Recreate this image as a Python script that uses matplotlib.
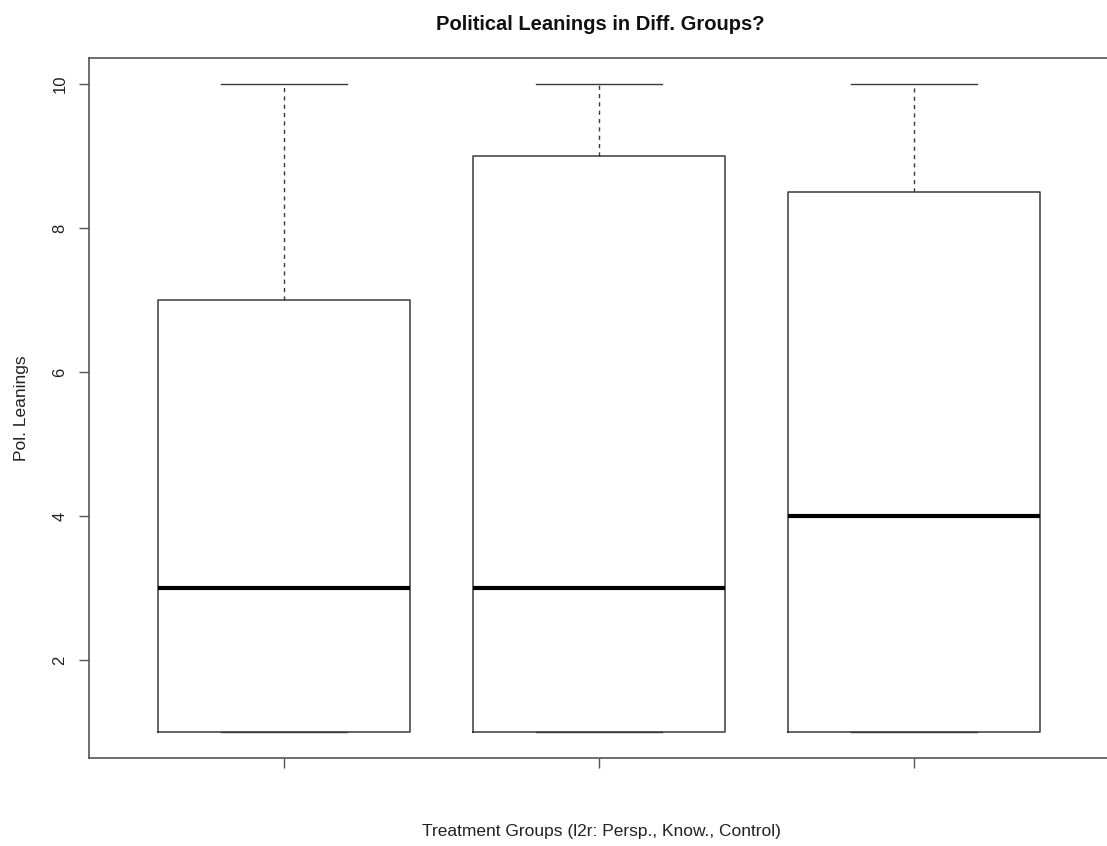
"""Boxplot of political leanings per treatment group."""
import matplotlib.pyplot as plt

plt.rcParams['font.family'] = ['Liberation Sans', 'DejaVu Sans']

# five-number summaries per group (l2r: Persp., Know., Control)
groups = ["Persp.", "Know.", "Control"]
whisker_low = [1, 1, 1]
q1 = [1, 1, 1]
medians = [3, 3, 4]
q3 = [7, 9, 8.5]
whisker_high = [10, 10, 10]
y_ticks = [2, 4, 6, 8, 10]

stats = []
for i, name in enumerate(groups):
    stats.append({
        "label": "",
        "whislo": whisker_low[i],
        "q1": q1[i],
        "med": medians[i],
        "q3": q3[i],
        "whishi": whisker_high[i],
        "fliers": [],
    })

fig = plt.figure(figsize=(11.07, 8.46), dpi=100)
ax = fig.add_axes([0.0804, 0.104, 0.922, 0.8274])

line_col = "#3a3a3a"
ax.bxp(
    stats,
    positions=[1, 2, 3],
    widths=0.8,
    showfliers=False,
    boxprops=dict(color=line_col, linewidth=1.1),
    whiskerprops=dict(color=line_col, linewidth=1.0, linestyle=(0, (3, 3))),
    capprops=dict(color=line_col, linewidth=1.0),
    medianprops=dict(color="black", linewidth=3.0),
    capwidths=0.4,
)

# R-style ranges with 4% padding
ax.set_xlim(0.38, 3.62)
ax.set_ylim(0.64, 10.36)
ax.set_xticks([1, 2, 3])
ax.set_xticklabels(["", "", ""])
ax.set_yticks(y_ticks)
ax.set_yticklabels([str(t) for t in y_ticks], rotation=90, va="center")

for side in ax.spines.values():
    side.set_color("#555555")
    side.set_linewidth(1.2)
ax.tick_params(axis="both", length=7, width=1.0, color="#555555",
               labelsize=12, labelcolor="#222222", pad=8.5)

ax.set_ylabel("Pol. Leanings", fontsize=12.5, color="#222222", labelpad=17)
fig.text(0.543, 1 - 831 / 846, "Treatment Groups (l2r: Persp., Know., Control)",
         ha="center", va="center", fontsize=12.5, color="#222222")
fig.text(0.542, 1 - 25 / 846, "Political Leanings in Diff. Groups?",
         ha="center", va="center", fontsize=14.5, fontweight="bold",
         color="#111111")

fig.savefig("out.png", dpi=100)
